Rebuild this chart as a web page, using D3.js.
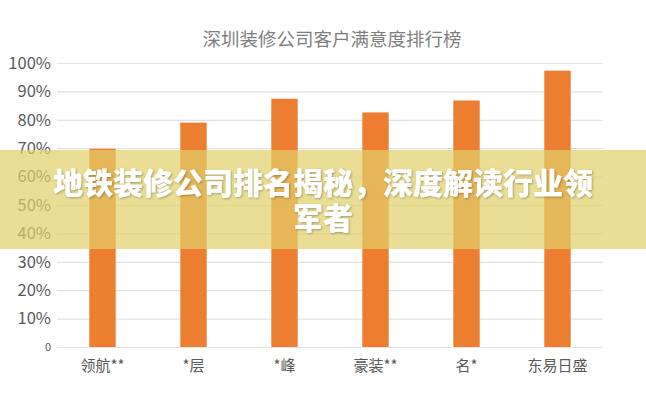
<!DOCTYPE html>
<html><head><meta charset="utf-8">
<script src="https://cdn.jsdelivr.net/npm/d3@7"></script>
<style>
html,body{margin:0;padding:0;background:#fff;}
svg{display:block;font-family:"Noto Sans CJK SC","Noto Sans",sans-serif;}
</style></head>
<body>
<script>
const categories = ["领航**", "*层", "*峰", "豪装**", "名*", "东易日盛"];
const satisfaction = [69.8, 79, 87.4, 82.6, 86.8, 97.3];
const yTicks = [0, 10, 20, 30, 40, 50, 60, 70, 80, 90, 100];
const titleText = "深圳装修公司客户满意度排行榜";
const bannerLines = ["地铁装修公司排名揭秘，深度解读行业领", "军者"];

const W = 646, H = 400;
const m = {left: 57, right: 43, top: 63, bottom: 53};
const svg = d3.select("body").append("svg").attr("width", W).attr("height", H);

const x = d3.scaleBand().domain(categories).range([m.left, W - m.right]).paddingInner(0.71).paddingOuter(0.355);
const y = d3.scaleLinear().domain([0, 100]).range([H - m.bottom, m.top]);

svg.append("text").attr("x", 332).attr("y", 46).attr("text-anchor", "middle")
  .attr("font-size", 18.5).attr("fill", "#7f7f7f").text(titleText);

const yAxis = svg.append("g").attr("transform", `translate(${m.left},0)`)
  .call(d3.axisLeft(y).tickValues(yTicks).tickSize(-(W - m.left - m.right)).tickPadding(6)
    .tickFormat(d => d === 0 ? "0" : d + "%"));
yAxis.select(".domain").remove();
yAxis.selectAll(".tick line").attr("stroke", "#e3e3e3").attr("stroke-width", 1.2);
yAxis.selectAll(".tick text").attr("fill", "#595959").attr("font-size", d => d === 0 ? 11 : 16.5)
  .attr("font-family", "'Noto Sans CJK SC',sans-serif");

svg.append("g").selectAll("rect").data(categories).join("rect")
  .attr("x", d => x(d)).attr("width", x.bandwidth())
  .attr("y", (d, i) => y(satisfaction[i])).attr("height", (d, i) => y(0) - y(satisfaction[i]))
  .attr("fill", "#ED7D31");

const xAxis = svg.append("g").attr("transform", `translate(0,${H - m.bottom})`)
  .call(d3.axisBottom(x).tickSize(0).tickPadding(13));
xAxis.select(".domain").remove();
xAxis.selectAll(".tick text").attr("fill", "#595959").attr("font-size", 15)
  .attr("font-family", "'Noto Sans CJK SC',sans-serif");

// banner overlay
svg.append("rect").attr("x", 0).attr("y", 150).attr("width", W).attr("height", 99)
  .attr("fill", "rgb(225,208,105)").attr("fill-opacity", 0.7);
const defs = svg.append("defs");
const f = defs.append("filter").attr("id", "sh").attr("x", "-10%").attr("y", "-30%").attr("width", "120%").attr("height", "160%");
f.append("feDropShadow").attr("dx", 1).attr("dy", 1).attr("stdDeviation", 1.2).attr("flood-color", "#000").attr("flood-opacity", 0.3);
svg.append("g").selectAll("text").data(bannerLines).join("text")
  .attr("x", 323).attr("y", (d, i) => 194 + i * 35).attr("text-anchor", "middle")
  .attr("font-size", 30).attr("font-weight", 900).attr("fill", "#fff")
  .attr("filter", "url(#sh)").text(d => d);
</script>
</body></html>
